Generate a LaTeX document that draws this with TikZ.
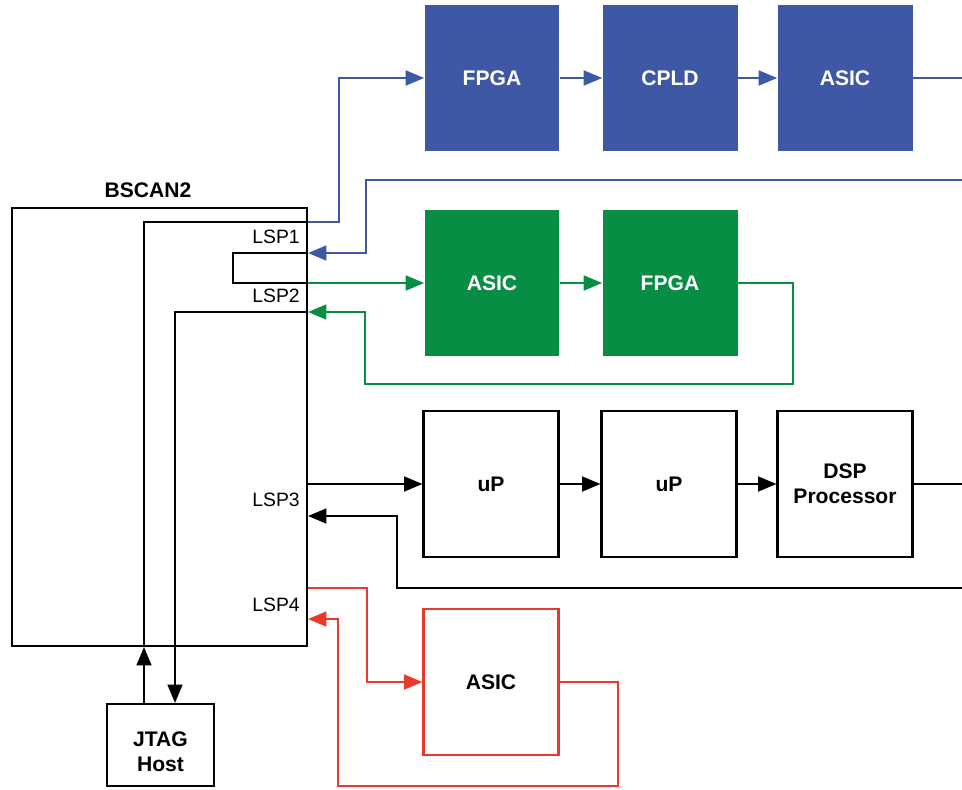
\documentclass[tikz,border=0pt]{standalone}
\usepackage{fontspec}
\setmainfont{Liberation Sans}
\usetikzlibrary{arrows.meta}
\definecolor{scanblue}{RGB}{63,88,166}
\definecolor{scangreen}{RGB}{7,141,68}
\definecolor{scanred}{RGB}{233,57,42}
\tikzset{
  wire/.style={line width=1.1pt},
  tip/.style={-{Triangle[length=10.5pt,width=8.5pt]}},
  dev/.style={rectangle,minimum width=2.7cm,minimum height=2.92cm,inner sep=0pt,
    font=\fontsize{12}{14.4}\selectfont\bfseries,align=center},
  solid dev/.style={dev,fill=#1,text=white},
  open dev/.style={dev,draw=#1,line width=1.2pt,fill=white},
  port/.style={anchor=east,inner sep=0pt,font=\fontsize{11}{13}\selectfont}
}
\begin{document}
\begin{tikzpicture}[x=0.02cm,y=-0.02cm]
  \useasboundingbox (0,0) rectangle (962,789);
  \coordinate (rim) at (962,0);
  \node[draw,line width=1.2pt,minimum width=5.9cm,minimum height=8.76cm,inner sep=0pt] (bscan) at (159.5,427) {};
  \node[font=\fontsize{12}{14.4}\selectfont\bfseries] (title) at (148,190) {BSCAN2};
  \node[draw,line width=1.2pt,minimum width=2.14cm,minimum height=1.64cm,inner sep=0pt,
    font=\fontsize{12}{14.4}\selectfont\bfseries,align=center] (jtag) at (160.5,745) {\rule{0pt}{16pt}JTAG\\Host};
  \foreach \name/\y in {lspa/222,lspb/253,lspc/283,lspd/312,lspe/484,lspf/516,lspg/588,lsph/619}
    \coordinate (\name) at (bscan.east |- 0,\y);
  \node[port] (lbl1) at (300,237) {LSP1};
  \node[port] (lbl2) at (300,296) {LSP2};
  \node[port] (lbl3) at (300,500) {LSP3};
  \node[port] (lbl4) at (300,605) {LSP4};
  % chain 1
  \node[solid dev=scanblue] (fpga1) at (492,78) {FPGA};
  \node[solid dev=scanblue] (cpld1) at (670,78) {CPLD};
  \node[solid dev=scanblue] (asic1) at (845,78) {ASIC};
  % chain 2
  \node[solid dev=scangreen] (asic2) at (492,283) {ASIC};
  \node[solid dev=scangreen] (fpga2) at (670,283) {FPGA};
  % chain 3
  \node[open dev=black] (up1) at (491,484) {uP};
  \node[open dev=black] (up2) at (669,484) {uP};
  \node[open dev=black] (dsp) at (845,484) {DSP\\Processor};
  % chain 4
  \node[open dev=scanred] (asic3) at (491,682) {ASIC};
  % jtag host paths
  \coordinate (tdi) at (144,222);
  \coordinate (tdo) at (175,312);
  \draw[wire,tip] (tdi |- jtag.north) -- (tdi |- bscan.south);
  \draw[wire] (tdi |- bscan.south) -- (tdi) -- (lspa);
  \draw[wire,tip] (lspd) -- (tdo) -- (tdo |- jtag.north);
  \draw[wire] (lspb) -- (233,253) -- (233,283) -- (lspc);
  % blue
  \draw[wire,scanblue,tip] (lspa) -- ++(31,0) |- (fpga1.west);
  \draw[wire,scanblue,tip] (fpga1) -- (cpld1);
  \draw[wire,scanblue,tip] (cpld1) -- (asic1);
  \draw[wire,scanblue] (asic1.east) -- (asic1.east -| rim);
  \draw[wire,scanblue,tip] (rim |- 0,180) -- (366,180) |- (lspb);
  % green
  \draw[wire,scangreen,tip] (lspc) -- (asic2);
  \draw[wire,scangreen,tip] (asic2) -- (fpga2);
  \draw[wire,scangreen,tip] (fpga2.east) -- ++(55,0) |- (365,384) |- (lspd);
  % black
  \draw[wire,tip] (lspe) -- (up1);
  \draw[wire,tip] (up1) -- (up2);
  \draw[wire,tip] (up2) -- (dsp);
  \draw[wire] (dsp.east) -- (dsp.east -| rim);
  \draw[wire,tip] (rim |- 0,588) -- (397,588) |- (lspf);
  % red
  \draw[wire,scanred,tip] (lspg) -- ++(59,0) |- (asic3.west);
  \draw[wire,scanred,tip] (asic3.east) -- ++(58,0) |- (338,786) |- (lsph);
\end{tikzpicture}
\end{document}
